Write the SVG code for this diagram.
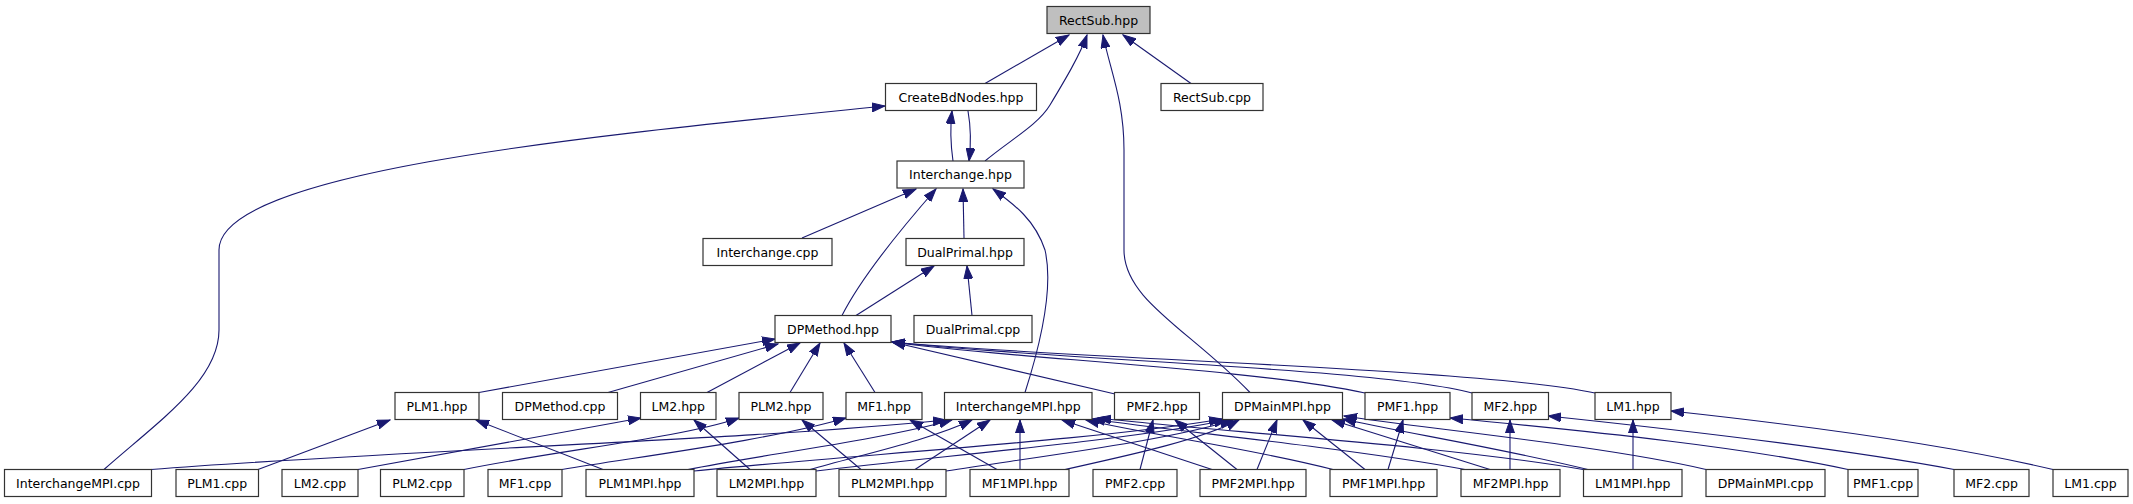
<svg xmlns="http://www.w3.org/2000/svg" width="2133" height="504" viewBox="0 0 2133 504">
<style>
.n rect{fill:#fff;stroke:#333;stroke-width:1.2}
.n text{font-family:"DejaVu Sans",sans-serif;font-size:12.5px;fill:#000;text-anchor:middle}
#n0 rect{fill:#bfbfbf}
.e path{fill:none;stroke:#191970;stroke-width:1.1;marker-end:url(#a)}
</style>
<defs>
<marker id="a" markerUnits="userSpaceOnUse" markerWidth="14" markerHeight="10" refX="13" refY="5" orient="auto">
<path d="M0,0.5 L13,5 L0,9.5 z" fill="#191970" stroke="#191970" stroke-width="1"/>
</marker>
</defs>
<rect width="2133" height="504" fill="#fff"/>
<g id="edges" class="e">
<path d="M985,83.5 L1069,35"/>
<path d="M985,161 C1010,140 1038,125 1050,105 C1065,80 1080,55 1087,35"/>
<path d="M1250,392.5 C1190,330 1124,300 1124,250 L1124,150 C1124,100 1110,70 1103,35"/>
<path d="M1191,83.5 L1123,35"/>
<path d="M953,161 C950,140 950,128 952,111"/>
<path d="M968,111 C971,128 971,145 969,161"/>
<path d="M104,469.5 C160,420 219,380 219,330 L219,250 C219,170 600,135 885,106"/>
<path d="M802,238 L916,189"/>
<path d="M842,315.5 C860,280 900,230 936,189"/>
<path d="M964,238 L963,189"/>
<path d="M1025,392.5 C1045,330 1052,280 1045,250 C1035,220 1015,205 993,189"/>
<path d="M856,315.5 L934,266"/>
<path d="M972,315.5 L967,266"/>
<path d="M479,392.5 L775,339"/>
<path d="M608,392.5 L778,344"/>
<path d="M707,392.5 L800,343"/>
<path d="M790,392.5 L820,343"/>
<path d="M875,392.5 L844,343"/>
<path d="M1115,394 L892,342"/>
<path d="M1365,393 C1250,368 1000,358 892,342"/>
<path d="M1472,393 C1380,368 1050,360 892,342"/>
<path d="M1595,393 C1480,368 1050,358 892,342"/>
<path d="M258,469.5 L390,420"/>
<path d="M603,469.5 L476,420"/>
<path d="M358,469.5 L641,418"/>
<path d="M464,469.5 C560,450 680,438 739,418"/>
<path d="M562,469.5 C650,455 770,440 846,418"/>
<path d="M750,469.5 L694,420"/>
<path d="M861,469.5 L802,420"/>
<path d="M997,469.5 L910,420"/>
<path d="M1140,469.5 L1153,420"/>
<path d="M1237,469.5 L1175,420"/>
<path d="M1388,469.5 L1403,420"/>
<path d="M1848,469.5 C1750,448 1600,432 1450,418"/>
<path d="M1510,469.5 L1510,420"/>
<path d="M1954,469.5 C1850,450 1700,432 1548,416"/>
<path d="M1633,469.5 L1633,420"/>
<path d="M2053,469.5 C1950,445 1800,425 1671,411"/>
<path d="M151,469.5 C400,450 750,440 946,420"/>
<path d="M688,469.5 C760,455 880,440 952,420"/>
<path d="M810,469.5 C860,455 930,440 972,420"/>
<path d="M915,469.5 L990,420"/>
<path d="M1020,469.5 L1020,420"/>
<path d="M1212,469.5 L1062,420"/>
<path d="M1333,469.5 C1250,448 1150,435 1086,420"/>
<path d="M1465,469.5 C1350,448 1180,432 1092,419"/>
<path d="M1583,469.5 C1450,446 1200,430 1098,418"/>
<path d="M694,471 C850,455 1100,440 1222,419"/>
<path d="M816,471 C950,455 1130,440 1227,420"/>
<path d="M946,471 C1050,455 1170,440 1233,420"/>
<path d="M1065,469.5 C1130,455 1200,440 1239,420"/>
<path d="M1257,469.5 L1277,420"/>
<path d="M1365,469.5 L1303,420"/>
<path d="M1490,469.5 L1332,420"/>
<path d="M1590,470 C1500,448 1400,432 1343,419"/>
<path d="M1706,469.5 C1600,445 1420,428 1344,416"/>
</g>
<g id="n0" class="n"><rect x="1047" y="6.5" width="103" height="27"/><text x="1098.5" y="24.5">RectSub.hpp</text></g>
<g id="n1" class="n"><rect x="885.5" y="83.5" width="151" height="27"/><text x="961" y="101.5">CreateBdNodes.hpp</text></g>
<g id="n2" class="n"><rect x="1161" y="83.5" width="102" height="27"/><text x="1212" y="101.5">RectSub.cpp</text></g>
<g id="n3" class="n"><rect x="897" y="161" width="127" height="27"/><text x="960.5" y="179">Interchange.hpp</text></g>
<g id="n4" class="n"><rect x="703" y="238.5" width="129" height="27"/><text x="767.5" y="256.5">Interchange.cpp</text></g>
<g id="n5" class="n"><rect x="906" y="238.5" width="118" height="27"/><text x="965" y="256.5">DualPrimal.hpp</text></g>
<g id="n6" class="n"><rect x="775" y="315.5" width="116" height="27"/><text x="833" y="333.5">DPMethod.hpp</text></g>
<g id="n7" class="n"><rect x="914" y="315.5" width="118" height="27"/><text x="973" y="333.5">DualPrimal.cpp</text></g>
<g id="n8" class="n"><rect x="395" y="392.5" width="84" height="27"/><text x="437" y="410.5">PLM1.hpp</text></g>
<g id="n9" class="n"><rect x="502.5" y="392.5" width="115" height="27"/><text x="560" y="410.5">DPMethod.cpp</text></g>
<g id="n10" class="n"><rect x="640.5" y="392.5" width="75.5" height="27"/><text x="678.25" y="410.5">LM2.hpp</text></g>
<g id="n11" class="n"><rect x="739" y="392.5" width="84" height="27"/><text x="781" y="410.5">PLM2.hpp</text></g>
<g id="n12" class="n"><rect x="846" y="392.5" width="76" height="27"/><text x="884" y="410.5">MF1.hpp</text></g>
<g id="n13" class="n"><rect x="944.5" y="392.5" width="147.5" height="27"/><text x="1018.25" y="410.5">InterchangeMPI.hpp</text></g>
<g id="n14" class="n"><rect x="1114.5" y="392.5" width="85" height="27"/><text x="1157" y="410.5">PMF2.hpp</text></g>
<g id="n15" class="n"><rect x="1222.5" y="392.5" width="120" height="27"/><text x="1282.5" y="410.5">DPMainMPI.hpp</text></g>
<g id="n16" class="n"><rect x="1365" y="392.5" width="85" height="27"/><text x="1407.5" y="410.5">PMF1.hpp</text></g>
<g id="n17" class="n"><rect x="1472" y="392.5" width="76.5" height="27"/><text x="1510.25" y="410.5">MF2.hpp</text></g>
<g id="n18" class="n"><rect x="1595" y="392.5" width="76" height="27"/><text x="1633" y="410.5">LM1.hpp</text></g>
<g id="n19" class="n"><rect x="4.5" y="469.5" width="147" height="27"/><text x="78" y="487.5">InterchangeMPI.cpp</text></g>
<g id="n20" class="n"><rect x="176" y="469.5" width="82.5" height="27"/><text x="217.25" y="487.5">PLM1.cpp</text></g>
<g id="n21" class="n"><rect x="282" y="469.5" width="76" height="27"/><text x="320" y="487.5">LM2.cpp</text></g>
<g id="n22" class="n"><rect x="380.5" y="469.5" width="83.5" height="27"/><text x="422.25" y="487.5">PLM2.cpp</text></g>
<g id="n23" class="n"><rect x="488" y="469.5" width="74" height="27"/><text x="525" y="487.5">MF1.cpp</text></g>
<g id="n24" class="n"><rect x="586" y="469.5" width="108" height="27"/><text x="640" y="487.5">PLM1MPI.hpp</text></g>
<g id="n25" class="n"><rect x="717" y="469.5" width="99" height="27"/><text x="766.5" y="487.5">LM2MPI.hpp</text></g>
<g id="n26" class="n"><rect x="839" y="469.5" width="107" height="27"/><text x="892.5" y="487.5">PLM2MPI.hpp</text></g>
<g id="n27" class="n"><rect x="970" y="469.5" width="99" height="27"/><text x="1019.5" y="487.5">MF1MPI.hpp</text></g>
<g id="n28" class="n"><rect x="1093" y="469.5" width="84" height="27"/><text x="1135" y="487.5">PMF2.cpp</text></g>
<g id="n29" class="n"><rect x="1200" y="469.5" width="106" height="27"/><text x="1253" y="487.5">PMF2MPI.hpp</text></g>
<g id="n30" class="n"><rect x="1330" y="469.5" width="107" height="27"/><text x="1383.5" y="487.5">PMF1MPI.hpp</text></g>
<g id="n31" class="n"><rect x="1461" y="469.5" width="99" height="27"/><text x="1510.5" y="487.5">MF2MPI.hpp</text></g>
<g id="n32" class="n"><rect x="1583.5" y="469.5" width="98.5" height="27"/><text x="1632.75" y="487.5">LM1MPI.hpp</text></g>
<g id="n33" class="n"><rect x="1706" y="469.5" width="119" height="27"/><text x="1765.5" y="487.5">DPMainMPI.cpp</text></g>
<g id="n34" class="n"><rect x="1848" y="469.5" width="70" height="27"/><text x="1883" y="487.5">PMF1.cpp</text></g>
<g id="n35" class="n"><rect x="1954" y="469.5" width="75" height="27"/><text x="1991.5" y="487.5">MF2.cpp</text></g>
<g id="n36" class="n"><rect x="2053" y="469.5" width="75" height="27"/><text x="2090.5" y="487.5">LM1.cpp</text></g>
</svg>
